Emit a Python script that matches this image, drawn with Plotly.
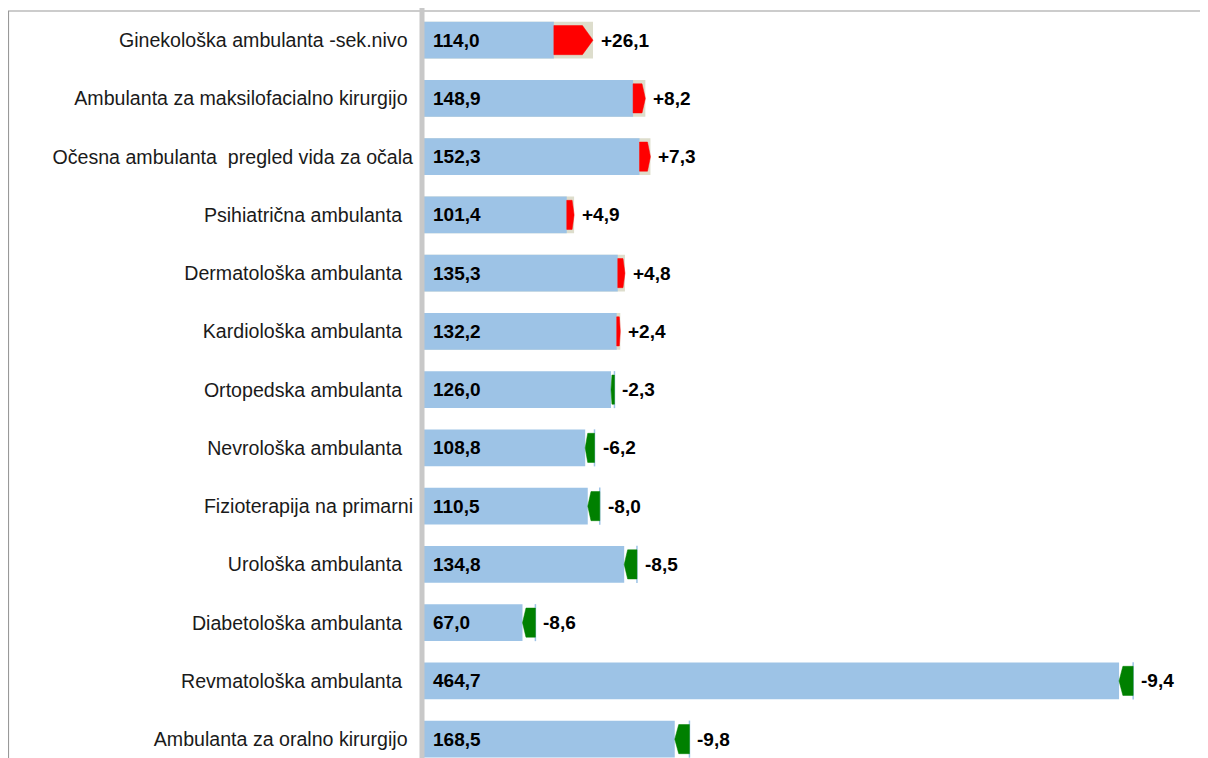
import plotly.graph_objects as go

# categories, current value and change vs. previous period
labels = [
    "Ginekološka ambulanta -sek.nivo\u00a0",
    "Ambulanta za maksilofacialno kirurgijo\u00a0",
    "Očesna ambulanta\u00a0 pregled vida za očala",
    "Psihiatrična ambulanta\u00a0\u00a0",
    "Dermatološka ambulanta\u00a0\u00a0",
    "Kardiološka ambulanta\u00a0\u00a0",
    "Ortopedska ambulanta\u00a0\u00a0",
    "Nevrološka ambulanta\u00a0\u00a0",
    "Fizioterapija na primarni",
    "Urološka ambulanta\u00a0\u00a0",
    "Diabetološka ambulanta\u00a0\u00a0",
    "Revmatološka ambulanta\u00a0\u00a0",
    "Ambulanta za oralno kirurgijo\u00a0",
]
current = [114.0, 148.9, 152.3, 101.4, 135.3, 132.2, 126.0, 108.8, 110.5, 134.8, 67.0, 464.7, 168.5]
change = [26.1, 8.2, 7.3, 4.9, 4.8, 2.4, -2.3, -6.2, -8.0, -8.5, -8.6, -9.4, -9.8]

BLUE = "#9DC3E6"
BEIGE = "#DDDDCC"
RED = "#FF0000"
GREEN = "#008000"
FONT = "Liberation Sans, Arial, sans-serif"

previous = [round(c - d, 1) for c, d in zip(current, change)]
rows = list(range(len(labels)))
low = [min(p, c) for p, c in zip(previous, current)]
high = [max(p, c) for p, c in zip(previous, current)]


def fmt(v, sign=False):
    s = f"{v:+.1f}" if sign else f"{v:.1f}"
    return s.replace(".", ",")


fig = go.Figure()

# background bar up to the larger value (beige only where value grew)
fig.add_trace(go.Bar(
    y=rows, x=high, orientation="h", width=0.635,
    marker=dict(color=[BEIGE if d > 0 else "rgba(0,0,0,0)" for d in change], line_width=0),
    hoverinfo="skip",
))
fig.add_trace(go.Bar(
    y=rows, x=low, orientation="h", width=0.635,
    marker=dict(color=BLUE, line_width=0),
    hoverinfo="skip",
))

# arrows from previous to current value
h = 0.25
px_, py_, nx_, ny_ = [], [], [], []
lx, ly = [], []
for i, p, c, d in zip(rows, previous, current, change):
    t = 0.27 * abs(d)
    if d > 0:
        px_ += [p, c - t, c, c - t, p, p, None]
        py_ += [i - h, i - h, i, i + h, i + h, i - h, None]
    else:
        nx_ += [c, c + t, p, p, c + t, c, None]
        ny_ += [i, i - h, i - h, i + h, i + h, i, None]
        lx += [p, p, None]
        ly += [i - 0.318, i + 0.318, None]

fig.add_trace(go.Scatter(x=lx, y=ly, mode="lines", line=dict(color=BLUE, width=1.5), hoverinfo="skip"))
fig.add_trace(go.Scatter(x=px_, y=py_, mode="lines", fill="toself", fillcolor=RED,
                         line=dict(color=RED, width=0.5), hoverinfo="skip"))
fig.add_trace(go.Scatter(x=nx_, y=ny_, mode="lines", fill="toself", fillcolor=GREEN,
                         line=dict(color=GREEN, width=0.5), hoverinfo="skip"))

annotations = []
for i, c, d, hi in zip(rows, current, change, high):
    annotations.append(dict(x=0, y=i, xref="x", yref="y", text=fmt(c), showarrow=False,
                            xanchor="left", xshift=9, font=dict(family=FONT, size=19, color="black", weight="bold")))
    annotations.append(dict(x=hi, y=i, xref="x", yref="y", text=fmt(d, sign=True), showarrow=False,
                            xanchor="left", xshift=6, font=dict(family=FONT, size=19, color="black", weight="bold")))

# page body adds an 8px margin, so the figure is 8px smaller than the window
fig.update_layout(
    width=1200, height=750,
    margin=dict(l=414, r=0, t=3, b=0),
    paper_bgcolor="white", plot_bgcolor="white",
    barmode="overlay", showlegend=False,
    annotations=annotations,
    xaxis=dict(range=[0, 786 / 1.50], showgrid=False, zeroline=False, showticklabels=False, showline=False),
    yaxis=dict(range=[12.324, -0.5], tickvals=rows, ticktext=labels, showgrid=False, zeroline=False,
               showline=False, ticks="", ticklabelstandoff=8,
               tickfont=dict(family=FONT, size=19.6, color="#1a1a1a")),
    shapes=[
        dict(type="path", xref="paper", yref="paper",
             path="M -0.5261,-0.01 L -0.5261,1 L 1.01,1", line=dict(color="#999999", width=1.2)),
        dict(type="line", xref="paper", yref="paper", x0=0, x1=0, y0=-0.01, y1=1.005,
             line=dict(color="#C8C8C8", width=5)),
    ],
)

fig.write_html("out.html")
